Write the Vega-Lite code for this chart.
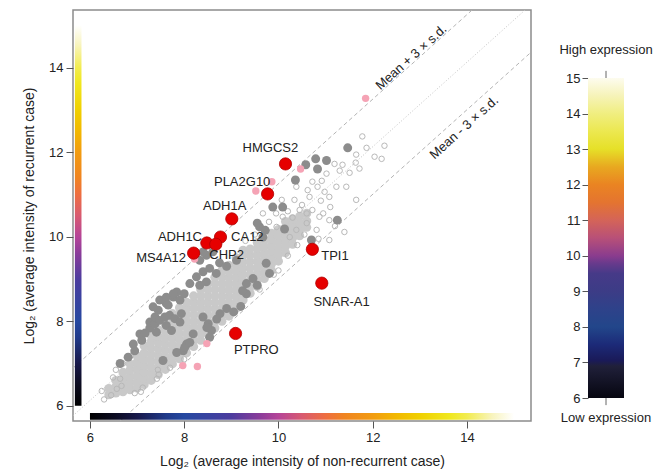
{
"$schema":"https://vega.github.io/schema/vega-lite/v6.json",
"width":458,"height":411,"autosize":"none",
"padding":{"left":73,"top":10,"right":134,"bottom":54},
"config":{"view":{"stroke":"#8c8c8c","strokeWidth":1.5},"font":"Liberation Sans",
"axis":{"grid":false,"domain":false,"tickColor":"#555555","labelColor":"#222222","titleColor":"#222222","labelFontSize":13,"titleFontSize":14,"titleFontWeight":"normal","tickSize":7}},
"datasets":{
"bg":[
{"x":6.40,"y":6.26},{"x":6.40,"y":6.41},
{"x":6.55,"y":6.30},{"x":6.55,"y":6.45},{"x":6.55,"y":6.60},
{"x":6.70,"y":6.33},{"x":6.70,"y":6.48},{"x":6.70,"y":6.63},{"x":6.70,"y":6.79},
{"x":6.85,"y":6.38},{"x":6.85,"y":6.53},{"x":6.85,"y":6.68},{"x":6.85,"y":6.84},{"x":6.85,"y":6.99},
{"x":7.00,"y":6.42},{"x":7.00,"y":6.57},{"x":7.00,"y":6.72},{"x":7.00,"y":6.88},{"x":7.00,"y":7.03},{"x":7.00,"y":7.18},
{"x":7.15,"y":6.50},{"x":7.15,"y":6.65},{"x":7.15,"y":6.80},{"x":7.15,"y":6.95},{"x":7.15,"y":7.10},{"x":7.15,"y":7.25},{"x":7.15,"y":7.42},
{"x":7.30,"y":6.60},{"x":7.30,"y":6.76},{"x":7.30,"y":6.91},{"x":7.30,"y":7.06},{"x":7.30,"y":7.21},{"x":7.30,"y":7.36},{"x":7.30,"y":7.52},{"x":7.30,"y":7.66},
{"x":7.45,"y":6.74},{"x":7.45,"y":6.89},{"x":7.45,"y":7.04},{"x":7.45,"y":7.19},{"x":7.45,"y":7.34},{"x":7.45,"y":7.49},{"x":7.45,"y":7.64},{"x":7.45,"y":7.80},
{"x":7.60,"y":6.86},{"x":7.60,"y":7.01},{"x":7.60,"y":7.16},{"x":7.60,"y":7.31},{"x":7.60,"y":7.46},{"x":7.60,"y":7.61},{"x":7.60,"y":7.77},{"x":7.60,"y":7.92},
{"x":7.75,"y":6.99},{"x":7.75,"y":7.14},{"x":7.75,"y":7.29},{"x":7.75,"y":7.44},{"x":7.75,"y":7.59},{"x":7.75,"y":7.74},{"x":7.75,"y":7.89},{"x":7.75,"y":8.05},{"x":7.75,"y":8.18},
{"x":7.90,"y":7.11},{"x":7.90,"y":7.26},{"x":7.90,"y":7.41},{"x":7.90,"y":7.56},{"x":7.90,"y":7.71},{"x":7.90,"y":7.86},{"x":7.90,"y":8.01},{"x":7.90,"y":8.16},{"x":7.90,"y":8.32},
{"x":8.05,"y":7.25},{"x":8.05,"y":7.40},{"x":8.05,"y":7.55},{"x":8.05,"y":7.70},{"x":8.05,"y":7.85},{"x":8.05,"y":8.00},{"x":8.05,"y":8.15},{"x":8.05,"y":8.30},{"x":8.05,"y":8.45},
{"x":8.20,"y":7.40},{"x":8.20,"y":7.55},{"x":8.20,"y":7.70},{"x":8.20,"y":7.85},{"x":8.20,"y":8.00},{"x":8.20,"y":8.15},{"x":8.20,"y":8.30},{"x":8.20,"y":8.45},{"x":8.20,"y":8.60},
{"x":8.35,"y":7.55},{"x":8.35,"y":7.70},{"x":8.35,"y":7.85},{"x":8.35,"y":8.00},{"x":8.35,"y":8.15},{"x":8.35,"y":8.30},{"x":8.35,"y":8.45},{"x":8.35,"y":8.60},{"x":8.35,"y":8.75},
{"x":8.50,"y":7.70},{"x":8.50,"y":7.85},{"x":8.50,"y":8.00},{"x":8.50,"y":8.15},{"x":8.50,"y":8.30},{"x":8.50,"y":8.45},{"x":8.50,"y":8.60},{"x":8.50,"y":8.75},{"x":8.50,"y":8.90},
{"x":8.65,"y":7.84},{"x":8.65,"y":7.99},{"x":8.65,"y":8.14},{"x":8.65,"y":8.29},{"x":8.65,"y":8.44},{"x":8.65,"y":8.59},{"x":8.65,"y":8.74},{"x":8.65,"y":8.89},{"x":8.65,"y":9.04},
{"x":8.80,"y":8.00},{"x":8.80,"y":8.15},{"x":8.80,"y":8.30},{"x":8.80,"y":8.45},{"x":8.80,"y":8.60},{"x":8.80,"y":8.75},{"x":8.80,"y":8.90},{"x":8.80,"y":9.05},{"x":8.80,"y":9.20},
{"x":8.95,"y":8.12},{"x":8.95,"y":8.27},{"x":8.95,"y":8.42},{"x":8.95,"y":8.57},{"x":8.95,"y":8.72},{"x":8.95,"y":8.87},{"x":8.95,"y":9.02},{"x":8.95,"y":9.17},{"x":8.95,"y":9.32},
{"x":9.10,"y":8.30},{"x":9.10,"y":8.45},{"x":9.10,"y":8.60},{"x":9.10,"y":8.75},{"x":9.10,"y":8.90},{"x":9.10,"y":9.05},{"x":9.10,"y":9.20},{"x":9.10,"y":9.35},{"x":9.10,"y":9.50},
{"x":9.25,"y":8.50},{"x":9.25,"y":8.65},{"x":9.25,"y":8.80},{"x":9.25,"y":8.95},{"x":9.25,"y":9.10},{"x":9.25,"y":9.25},{"x":9.25,"y":9.40},{"x":9.25,"y":9.55},{"x":9.25,"y":9.68},
{"x":9.40,"y":8.66},{"x":9.40,"y":8.81},{"x":9.40,"y":8.96},{"x":9.40,"y":9.11},{"x":9.40,"y":9.26},{"x":9.40,"y":9.41},{"x":9.40,"y":9.56},{"x":9.40,"y":9.71},
{"x":9.55,"y":8.82},{"x":9.55,"y":8.97},{"x":9.55,"y":9.12},{"x":9.55,"y":9.27},{"x":9.55,"y":9.42},{"x":9.55,"y":9.57},{"x":9.55,"y":9.72},{"x":9.55,"y":9.86},
{"x":9.70,"y":9.01},{"x":9.70,"y":9.16},{"x":9.70,"y":9.31},{"x":9.70,"y":9.46},{"x":9.70,"y":9.61},{"x":9.70,"y":9.76},{"x":9.70,"y":9.92},
{"x":9.85,"y":9.20},{"x":9.85,"y":9.35},{"x":9.85,"y":9.50},{"x":9.85,"y":9.65},{"x":9.85,"y":9.80},{"x":9.85,"y":9.95},{"x":9.85,"y":10.08},
{"x":10.00,"y":9.42},{"x":10.00,"y":9.57},{"x":10.00,"y":9.72},{"x":10.00,"y":9.87},{"x":10.00,"y":10.02},{"x":10.00,"y":10.17},
{"x":10.15,"y":9.62},{"x":10.15,"y":9.77},{"x":10.15,"y":9.92},{"x":10.15,"y":10.07},{"x":10.15,"y":10.22},{"x":10.15,"y":10.36},
{"x":10.30,"y":9.82},{"x":10.30,"y":9.97},{"x":10.30,"y":10.12},{"x":10.30,"y":10.27},{"x":10.30,"y":10.42},
{"x":10.45,"y":10.02},{"x":10.45,"y":10.17},{"x":10.45,"y":10.32},{"x":10.45,"y":10.48},
{"x":10.60,"y":10.22},{"x":10.60,"y":10.37},{"x":10.60,"y":10.55}
],
"open":[
{"x":11.78,"y":12.37},{"x":11.87,"y":12.10},{"x":12.25,"y":12.15},{"x":11.65,"y":11.94},{"x":12.04,"y":11.89},{"x":12.19,"y":11.84},{"x":11.19,"y":11.72},{"x":11.36,"y":11.70},{"x":11.64,"y":11.75},{"x":11.72,"y":11.61},{"x":11.51,"y":11.51},{"x":11.30,"y":11.56},{"x":11.02,"y":11.49},{"x":10.92,"y":11.32},{"x":10.72,"y":11.30},{"x":10.62,"y":11.10},{"x":10.98,"y":11.06},{"x":11.65,"y":10.87},{"x":10.34,"y":10.87},{"x":10.45,"y":10.63},{"x":10.72,"y":10.63},{"x":10.87,"y":10.47},{"x":11.08,"y":10.39},{"x":10.60,"y":10.32},{"x":10.38,"y":10.16},{"x":10.24,"y":9.99},{"x":10.81,"y":10.16},{"x":11.40,"y":10.11},{"x":11.08,"y":9.92},{"x":9.96,"y":10.23},{"x":10.09,"y":10.47},{"x":9.67,"y":10.55},{"x":10.07,"y":10.87},{"x":10.38,"y":11.18},{"x":11.23,"y":11.18},{"x":11.44,"y":11.18},{"x":11.08,"y":10.94},{"x":10.66,"y":10.94},{"x":10.83,"y":11.18},{"x":11.10,"y":10.70},{"x":10.95,"y":10.55},{"x":11.20,"y":10.25},{"x":10.85,"y":9.95},{"x":10.55,"y":10.05},{"x":10.90,"y":10.85},{"x":9.30,"y":9.90},{"x":9.50,"y":10.05},{"x":9.80,"y":10.35},{"x":9.90,"y":9.10},{"x":10.20,"y":9.55},{"x":10.40,"y":9.80},{"x":9.60,"y":8.75},{"x":10.00,"y":9.20},{"x":10.50,"y":10.75},{"x":10.20,"y":10.60},{"x":9.95,"y":10.55},{"x":10.60,"y":10.55},{"x":10.30,"y":10.45},
{"x":6.57,"y":6.40},{"x":6.67,"y":6.47},{"x":7.12,"y":6.43},{"x":7.08,"y":6.33},{"x":7.42,"y":6.64},{"x":7.46,"y":6.74},{"x":7.44,"y":6.85},{"x":8.18,"y":7.71},{"x":6.64,"y":6.64},{"x":6.70,"y":7.00},{"x":6.49,"y":6.67},{"x":6.45,"y":6.25},{"x":6.30,"y":6.15},{"x":6.55,"y":6.85},{"x":6.86,"y":7.18},{"x":6.25,"y":6.35},{"x":6.95,"y":6.30},{"x":7.70,"y":6.90},{"x":8.00,"y":7.10}
],
"sig":[
{"x":6.64,"y":7.00},{"x":6.81,"y":7.15},{"x":6.92,"y":7.46},{"x":6.95,"y":7.30},{"x":7.06,"y":7.70},{"x":7.10,"y":7.55},{"x":7.17,"y":7.72},{"x":7.27,"y":7.84},{"x":7.27,"y":7.98},{"x":7.38,"y":7.94},{"x":7.38,"y":8.10},{"x":7.45,"y":8.26},{"x":7.48,"y":8.02},{"x":7.41,"y":7.74},{"x":7.59,"y":8.10},{"x":7.62,"y":7.90},{"x":7.69,"y":8.14},{"x":7.73,"y":7.78},{"x":7.80,"y":8.06},{"x":7.91,"y":7.98},{"x":7.94,"y":8.18},{"x":7.62,"y":8.42},{"x":7.77,"y":8.57},{"x":7.84,"y":8.69},{"x":7.34,"y":8.34},{"x":7.48,"y":8.50},{"x":7.62,"y":8.57},{"x":7.77,"y":8.65},{"x":7.91,"y":8.50},{"x":7.66,"y":8.38},{"x":8.00,"y":8.65},{"x":8.12,"y":8.89},{"x":8.26,"y":9.05},{"x":8.40,"y":9.17},{"x":8.54,"y":9.25},{"x":8.68,"y":9.13},{"x":8.47,"y":8.93},{"x":8.33,"y":8.85},{"x":8.33,"y":9.44},{"x":8.47,"y":9.56},{"x":8.61,"y":9.64},{"x":8.40,"y":9.64},{"x":8.75,"y":9.38},{"x":8.90,"y":9.30},{"x":8.40,"y":8.10},{"x":8.51,"y":7.94},{"x":8.58,"y":7.78},{"x":8.54,"y":7.62},{"x":8.05,"y":7.46},{"x":8.19,"y":7.70},{"x":7.98,"y":7.30},{"x":7.55,"y":7.07},{"x":7.84,"y":7.26},{"x":8.01,"y":7.38},{"x":8.12,"y":7.50},{"x":9.32,"y":8.89},{"x":9.46,"y":9.01},{"x":9.32,"y":8.65},{"x":9.81,"y":9.13},{"x":9.74,"y":9.37},{"x":8.90,"y":8.30},{"x":8.76,"y":8.18},{"x":9.05,"y":8.22},{"x":9.20,"y":8.35},{"x":9.24,"y":8.72},{"x":9.55,"y":8.85},{"x":8.48,"y":7.85},{"x":8.69,"y":8.05},{"x":9.11,"y":9.44},{"x":9.60,"y":10.23},{"x":9.67,"y":9.99},{"x":9.55,"y":10.32},{"x":9.72,"y":10.15},{"x":9.88,"y":10.70},{"x":10.09,"y":10.70},{"x":10.13,"y":10.18},{"x":10.36,"y":11.34},{"x":10.58,"y":11.70},{"x":10.83,"y":11.60},{"x":10.79,"y":11.84},{"x":11.02,"y":11.80},{"x":11.47,"y":12.10},{"x":11.25,"y":10.39},{"x":10.70,"y":9.92}
],
"pink":[
{"x":11.85,"y":13.27},{"x":10.47,"y":11.60},{"x":9.86,"y":11.30},{"x":9.52,"y":11.08},{"x":8.22,"y":9.47},{"x":8.48,"y":7.47},{"x":7.97,"y":6.95},{"x":8.28,"y":6.93}
],
"red":[
{"x":10.15,"y":11.72},{"x":9.77,"y":11.01},{"x":9.01,"y":10.42},{"x":8.77,"y":9.99},{"x":8.48,"y":9.85},{"x":8.67,"y":9.82},{"x":8.20,"y":9.61},{"x":10.72,"y":9.70},{"x":10.92,"y":8.90},{"x":9.09,"y":7.71}
],
"labels":[
{"x":9.83,"y":12.10,"t":"HMGCS2"},{"x":9.23,"y":11.30,"t":"PLA2G10"},{"x":8.86,"y":10.73,"t":"ADH1A"},{"x":9.34,"y":9.98,"t":"CA12"},{"x":7.91,"y":9.98,"t":"ADH1C"},{"x":8.90,"y":9.56,"t":"CHP2"},{"x":7.51,"y":9.50,"t":"MS4A12"},{"x":11.20,"y":9.55,"t":"TPI1"},{"x":11.34,"y":8.45,"t":"SNAR-A1"},{"x":9.53,"y":7.32,"t":"PTPRO"}
],
"sdlines":[
{"x":5.64,"y":6.89,"k":"upper"},{"x":14.11,"y":15.36,"k":"upper"},
{"x":6.64,"y":5.64,"k":"lower"},{"x":15.36,"y":14.36,"k":"lower"}
],
"meanline":[{"x":5.64,"y":5.765},{"x":15.235,"y":15.36}],
"sdtext":[{"x":12.82,"y":14.24,"t":"Mean + 3 × s.d."},{"x":13.94,"y":12.58,"t":"Mean - 3 × s.d."}],
"vbar":[{"x":5.68,"x2":5.82,"y":6,"y2":15}],
"hbar":[{"x":6,"x2":15,"y":5.67,"y2":5.83}],
"cbar":[{"a":0,"a2":1,"v":6,"v2":15}],
"cbtick":[{"a":0.5,"v":15,"v2":15.2},{"a":0.5,"v":6,"v2":5.8}],
"cbtext":[{"a":0.5,"v":15.8,"t":"High expression"},{"a":0.5,"v":5.44,"t":"Low expression"}]
},
"layer":[
{
"encoding":{
"x":{"field":"x","type":"quantitative","scale":{"domain":[5.64,15.36],"nice":false,"zero":false},"axis":{"values":[6,8,10,12,14],"title":"Log₂ (average intensity of non-recurrent case)","labelPadding":3,"titlePadding":10}},
"y":{"field":"y","type":"quantitative","scale":{"domain":[5.64,15.36],"nice":false,"zero":false},"axis":{"values":[6,8,10,12,14],"title":"Log₂ (average intensity of recurrent case)","labelPadding":3,"titlePadding":12}}
},
"layer":[
{"data":{"name":"sdlines"},"mark":{"type":"line","color":"#b4b4b4","strokeWidth":1,"strokeDash":[4,3]},"encoding":{"detail":{"field":"k"}}},
{"data":{"name":"meanline"},"mark":{"type":"line","color":"#c4c4c4","strokeWidth":1,"strokeDash":[1,2]},"encoding":{}},
{"data":{"name":"bg"},"mark":{"type":"circle","color":"#c9c9c9","opacity":1,"size":82}},
{"data":{"name":"open"},"mark":{"type":"point","shape":"circle","filled":false,"color":"#b8b8b8","opacity":1,"size":30,"strokeWidth":1}},
{"data":{"name":"sig"},"mark":{"type":"circle","color":"#8c8c8c","opacity":1,"size":80}},
{"data":{"name":"pink"},"mark":{"type":"circle","color":"#f5a3b5","opacity":1,"size":55}},
{"data":{"name":"red"},"mark":{"type":"circle","color":"#e60000","opacity":1,"size":150,"stroke":"#b00000","strokeWidth":0.8}},
{"data":{"name":"labels"},"mark":{"type":"text","fontSize":13,"color":"#222222","baseline":"middle","align":"center"},"encoding":{"text":{"field":"t"}}},
{"data":{"name":"sdtext"},"mark":{"type":"text","fontSize":13,"color":"#222222","baseline":"middle","align":"center","angle":318},"encoding":{"text":{"field":"t"}}},
{"data":{"name":"vbar"},"mark":{"type":"rect","fill":{"gradient":"linear","x1":0,"y1":1,"x2":0,"y2":0,"stops":[{"offset":0,"color":"#000000"},{"offset":0.06,"color":"#0c0c22"},{"offset":0.111,"color":"#18184a"},{"offset":0.18,"color":"#203a8a"},{"offset":0.222,"color":"#2548a0"},{"offset":0.3,"color":"#4040a0"},{"offset":0.333,"color":"#4c3c9e"},{"offset":0.4,"color":"#8a3c9a"},{"offset":0.444,"color":"#b54498"},{"offset":0.5,"color":"#d85a70"},{"offset":0.556,"color":"#ee6e40"},{"offset":0.6,"color":"#f08420"},{"offset":0.667,"color":"#f29c10"},{"offset":0.722,"color":"#f2b800"},{"offset":0.778,"color":"#f0d000"},{"offset":0.85,"color":"#f0e820"},{"offset":0.889,"color":"#f2ec50"},{"offset":0.95,"color":"#f8f4c0"},{"offset":1,"color":"#ffffff"}]}},"encoding":{"x2":{"field":"x2"},"y2":{"field":"y2"}}},
{"data":{"name":"hbar"},"mark":{"type":"rect","fill":{"gradient":"linear","x1":0,"y1":0,"x2":1,"y2":0,"stops":[{"offset":0,"color":"#000000"},{"offset":0.06,"color":"#0c0c22"},{"offset":0.111,"color":"#18184a"},{"offset":0.18,"color":"#203a8a"},{"offset":0.222,"color":"#2548a0"},{"offset":0.3,"color":"#4040a0"},{"offset":0.333,"color":"#4c3c9e"},{"offset":0.4,"color":"#8a3c9a"},{"offset":0.444,"color":"#b54498"},{"offset":0.5,"color":"#d85a70"},{"offset":0.556,"color":"#ee6e40"},{"offset":0.6,"color":"#f08420"},{"offset":0.667,"color":"#f29c10"},{"offset":0.722,"color":"#f2b800"},{"offset":0.778,"color":"#f0d000"},{"offset":0.85,"color":"#f0e820"},{"offset":0.889,"color":"#f2ec50"},{"offset":0.95,"color":"#f8f4c0"},{"offset":1,"color":"#ffffff"}]}},"encoding":{"x2":{"field":"x2"},"y2":{"field":"y2"}}}
]
},
{
"encoding":{
"x":{"field":"a","type":"quantitative","scale":{"domain":[0,1],"range":[515,551],"nice":false,"zero":false},"axis":null},
"y":{"field":"v","type":"quantitative","scale":{"domain":[6,15],"range":[388,68],"nice":false,"zero":false},"axis":{"orient":"left","offset":-515,"values":[6,7,8,9,10,11,12,13,14,15],"title":null,"tickSize":6,"labelPadding":2,"labelFontSize":13}}
},
"layer":[
{"data":{"name":"cbar"},"mark":{"type":"rect","fill":{"gradient":"linear","x1":0,"y1":1,"x2":0,"y2":0,"stops":[{"offset":0,"color":"#060610"},{"offset":0.1,"color":"#20203a"},{"offset":0.117,"color":"#1a1a58"},{"offset":0.167,"color":"#1c2a78"},{"offset":0.222,"color":"#22468a"},{"offset":0.278,"color":"#2e428a"},{"offset":0.333,"color":"#3c3c86"},{"offset":0.389,"color":"#463a88"},{"offset":0.422,"color":"#6a3a8c"},{"offset":0.444,"color":"#8a3c8e"},{"offset":0.5,"color":"#b85078"},{"offset":0.556,"color":"#d46458"},{"offset":0.611,"color":"#e47430"},{"offset":0.667,"color":"#ea8422"},{"offset":0.722,"color":"#e8a820"},{"offset":0.778,"color":"#e6e028"},{"offset":0.833,"color":"#ece850"},{"offset":0.889,"color":"#f0ee80"},{"offset":0.944,"color":"#f6f3b8"},{"offset":1,"color":"#fdfcef"}]}},"encoding":{"x2":{"field":"a2"},"y2":{"field":"v2"}}},
{"data":{"name":"cbtick"},"mark":{"type":"rule","color":"#666666","strokeWidth":1},"encoding":{"y2":{"field":"v2"}}},
{"data":{"name":"cbtext"},"mark":{"type":"text","fontSize":13,"color":"#222222","baseline":"middle","align":"center"},"encoding":{"text":{"field":"t"}}}
]
}
],
"resolve":{"scale":{"x":"independent","y":"independent"}}
}
